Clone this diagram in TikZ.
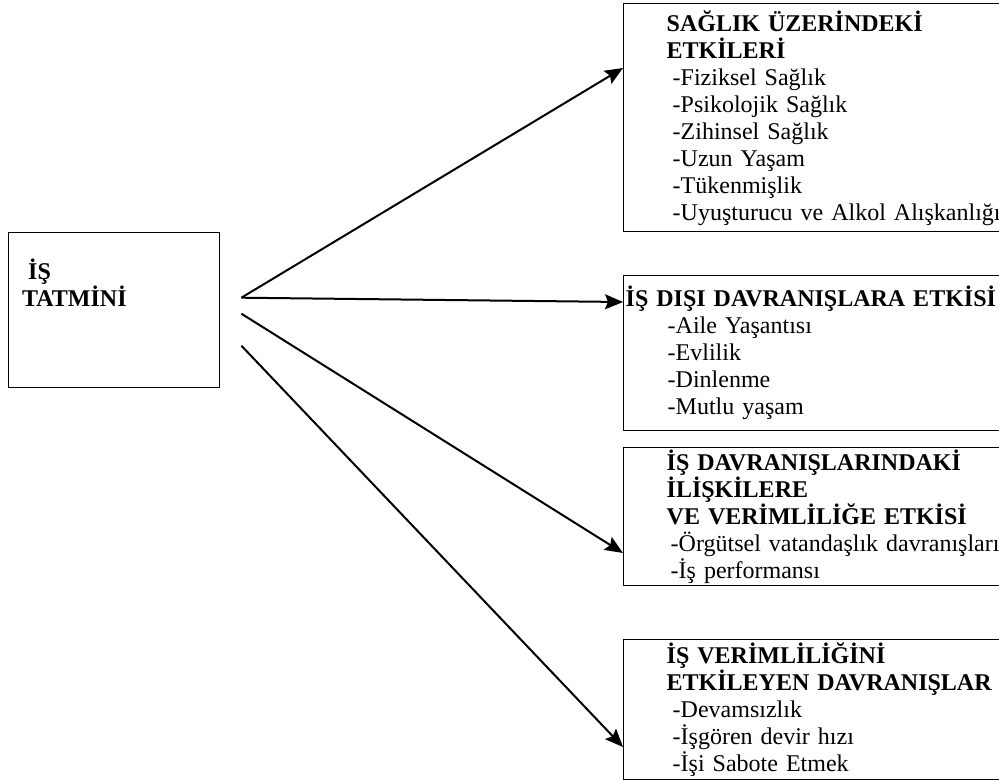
\documentclass[tikz,border=0pt]{standalone}
\usepackage{fontspec}
\setmainfont{Liberation Serif}
\usetikzlibrary{arrows.meta}
\newcommand{\madde}[2][6pt]{\hspace*{#1}-#2}

\begin{document}
\begin{tikzpicture}[x=1pt,y=-1pt,
		kutu/.style={draw, line width=1.4pt, anchor=north west, align=left, text width=400pt, inner xsep=43pt, inner ysep=0pt, font=\fontsize{24}{27}\selectfont},
		ok/.style={line width=2pt, -{Stealth[length=18pt,width=15pt,inset=3pt]}}]
	\clip (0,0) rectangle (999,781);
	\node [draw, line width=1.4pt, anchor=north west, minimum width=211pt, minimum height=155pt, inner sep=0pt,
		label={[anchor=north west, align=left, inner sep=0pt, xshift=14pt, yshift=-27pt, font=\fontsize{24}{27}\selectfont\bfseries]north west:{\hspace*{6pt}İŞ\\TATMİNİ}}]
		(tatmin) at (8,232) {};
	\node [kutu, minimum height=228pt] (saglik) at (623,3)
		{\textbf{SAĞLIK ÜZERİNDEKİ}\\\textbf{ETKİLERİ}\\\madde{Fiziksel Sağlık}\\\madde{Psikolojik Sağlık}\\\madde{Zihinsel Sağlık}\\\madde{Uzun Yaşam}\\\madde{Tükenmişlik}\\\madde{Uyuşturucu ve Alkol Alışkanlığı}};
	\node [kutu, inner xsep=2pt, minimum height=155pt] (disi) at (623,275)
		{\textbf{İŞ DIŞI DAVRANIŞLARA ETKİSİ}\\\madde[42pt]{Aile Yaşantısı}\\\madde[42pt]{Evlilik}\\\madde[42pt]{Dinlenme}\\\madde[42pt]{Mutlu yaşam}};
	\node [kutu, minimum height=138pt] (verim) at (623,447)
		{\textbf{İŞ DAVRANIŞLARINDAKİ}\\\textbf{İLİŞKİLERE}\\\textbf{VE VERİMLİLİĞE ETKİSİ}\\\madde[4pt]{Örgütsel vatandaşlık davranışları}\\\madde[4pt]{İş performansı}};
	\node [kutu, minimum height=140pt] (davranis) at (623,639)
		{\textbf{İŞ VERİMLİLİĞİNİ}\\\textbf{ETKİLEYEN DAVRANIŞLAR}\\\madde{Devamsızlık}\\\madde{İşgören devir hızı}\\\madde{İşi Sabote Etmek}};
	\path[ok]
	([xshift=21pt,yshift=12.5pt]tatmin.east) edge ([yshift=-65pt]saglik.north west)
	([xshift=21pt,yshift=12.5pt]tatmin.east) edge ([yshift=-27pt]disi.north west)
	([xshift=21pt,yshift=-3.5pt]tatmin.east) edge ([yshift=-106pt]verim.north west)
	([xshift=21pt,yshift=-35.5pt]tatmin.east) edge ([yshift=-108pt]davranis.north west);
\end{tikzpicture}
\end{document}
